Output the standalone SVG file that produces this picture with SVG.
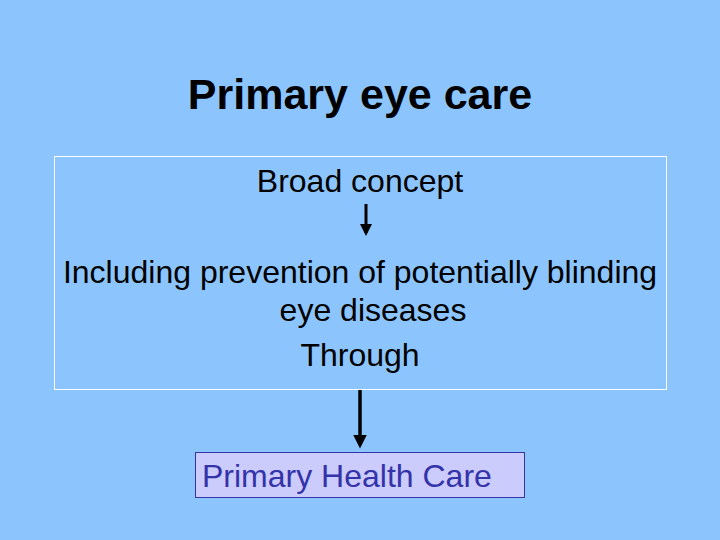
<svg xmlns="http://www.w3.org/2000/svg" width="720" height="540" viewBox="0 0 720 540">
<style>
text{font-family:"Liberation Sans",Arial,sans-serif;}
.t{font-size:32px;fill:#000;text-anchor:middle}
</style>
<defs><marker id="ah" markerWidth="4" markerHeight="4" refX="3" refY="2" orient="auto" markerUnits="strokeWidth"><path d="M0,0 L4,2 L0,4 Z" fill="#000"/></marker></defs>
<rect width="720" height="540" fill="#8cc5fd"/>
<text x="360" y="109" font-size="43" font-weight="bold" text-anchor="middle">Primary eye care</text>
<g id="box1">
<rect x="54.5" y="156.5" width="612" height="233" fill="none" stroke="#fff" stroke-width="1"/>
<text class="t" x="360" y="192">Broad concept</text>
<text class="t" x="360" y="283">Including prevention of potentially blinding</text>
<text class="t" x="373" y="321">eye diseases</text>
<text class="t" x="360" y="366">Through</text>
</g>
<g id="box2">
<rect x="195.5" y="452.5" width="329" height="45" fill="#ccccfc" stroke="#3333aa" stroke-width="1"/>
<text x="202" y="487" font-size="32" fill="#3333aa">Primary Health Care</text>
</g>
<g id="connectors">
<line x1="366" y1="204" x2="366" y2="233" stroke="#000" stroke-width="3" marker-end="url(#ah)"/>
<line x1="360" y1="390" x2="360" y2="445" stroke="#000" stroke-width="3.5" marker-end="url(#ah)"/>
</g>
</svg>
